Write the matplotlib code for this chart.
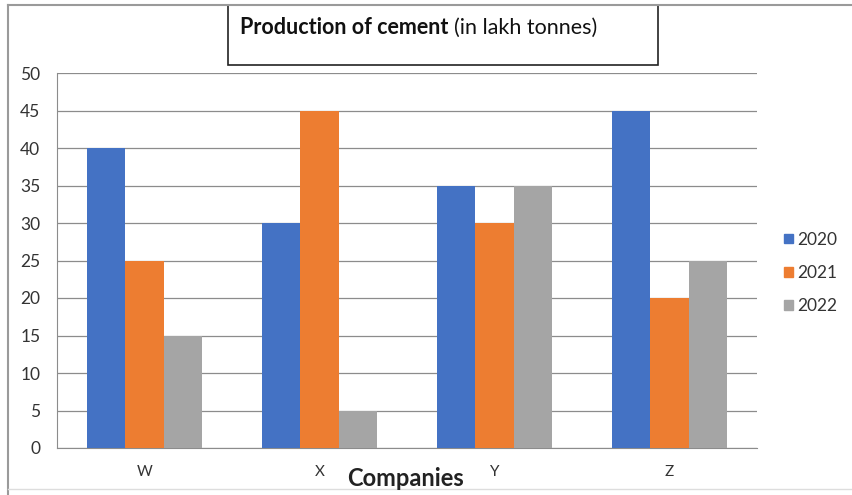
import matplotlib
matplotlib.use("Agg")
from matplotlib import pyplot as plt
from matplotlib.patches import Rectangle, Patch
import numpy as np

plt.rcParams['font.family'] = ['Lato', 'DejaVu Sans']

companies = ["W", "X", "Y", "Z"]
years     = ["2020", "2021", "2022"]
prod_2020 = [40, 30, 35, 45]
prod_2021 = [25, 45, 30, 20]
prod_2022 = [15, 5, 35, 25]
farger    = ["#4472C4", "#ED7D31", "#A5A5A5"]

fig = plt.figure(figsize=(8.52, 4.95), dpi=100)
ax  = fig.add_axes([57/852, 47/495, 700/852, 375/495])

x      = np.arange(len(companies))
bredde = 0.22
for i, (verdier, farge) in enumerate(zip([prod_2020, prod_2021, prod_2022], farger)):
    ax.bar(x + (i - 1) * bredde, verdier, bredde, color=farge, zorder=3)

ax.set_xlim(-0.5, 3.5)
ax.set_ylim(0, 50)
ax.set_yticks(range(0, 51, 5))
ax.set_xticks(x)
ax.set_xticklabels(companies, fontsize=11, color="#333333")
ax.tick_params(axis="y", labelsize=12.5, colors="#333333", length=0, pad=12)
ax.tick_params(axis="x", length=0, pad=12)
ax.grid(axis="y", color="#8c8c8c", linewidth=0.9, zorder=0)
for side in ["top", "right"]:
    ax.spines[side].set_visible(False)
ax.spines["left"].set_color("#8c8c8c")
ax.spines["bottom"].set_color("#8c8c8c")

fig.text(406/852, 1 - 479/495, "Companies", fontsize=17, fontweight="bold",
         ha="center", va="center", color="#222222")

# tittelboks
fig.patches.append(Rectangle((228/852, 1 - 65/495), 430/852, 60/495,
                             transform=fig.transFigure, fill=False,
                             edgecolor="#222222", linewidth=1.2))
t1 = fig.text(240/852, 1 - 28/495, "Production of cement", fontsize=15.5,
              fontweight="bold", va="center", color="#111111")
fig.canvas.draw()
bb = t1.get_window_extent()
fig.text(bb.x1 / fig.bbox.width + 6/852, 1 - 28/495, "(in lakh tonnes)",
         fontsize=15.5, va="center", color="#111111")

# ramme
fig.add_artist(plt.Line2D([8/852, 1], [1 - 5/495, 1 - 5/495], transform=fig.transFigure,
                          color="#9a9a9a", linewidth=1.5))
fig.add_artist(plt.Line2D([8/852, 8/852], [0, 1 - 5/495], transform=fig.transFigure,
                          color="#9a9a9a", linewidth=1.5))
fig.add_artist(plt.Line2D([8/852, 1], [6/495, 6/495], transform=fig.transFigure,
                          color="#dddddd", linewidth=1))

handles = [Patch(color=f) for f in farger]
fig.legend(handles, years, loc="center left", bbox_to_anchor=(784/852, 1 - 273/495),
           frameon=False, fontsize=12.5, handlelength=0.5, handleheight=0.5,
           handletextpad=0.25, labelspacing=1.0, labelcolor="#333333",
           borderpad=0, borderaxespad=0)

fig.savefig("out.png", dpi=100)
